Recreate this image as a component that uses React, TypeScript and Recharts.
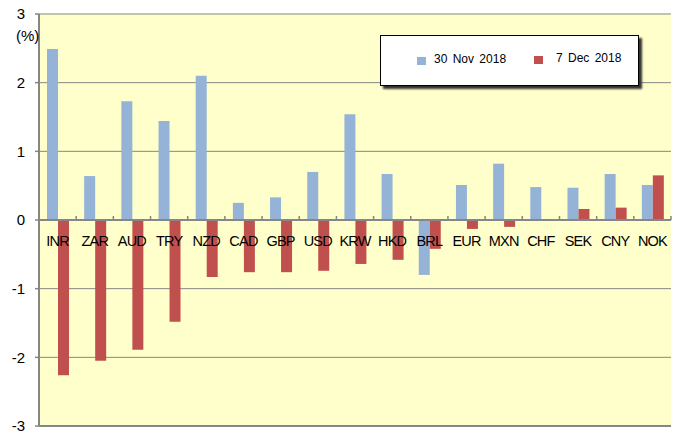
import { Bar, CartesianGrid, ComposedChart, LabelList, Line, ReferenceLine, XAxis, YAxis } from "recharts";

const currencies = ["INR", "ZAR", "AUD", "TRY", "NZD", "CAD", "GBP", "USD", "KRW", "HKD", "BRL", "EUR", "MXN", "CHF", "SEK", "CNY", "NOK"];
const nov30 = [2.49, 0.64, 1.73, 1.44, 2.1, 0.25, 0.33, 0.7, 1.54, 0.67, -0.8, 0.51, 0.82, 0.48, 0.47, 0.67, 0.51];
const dec7 = [-2.26, -2.05, -1.89, -1.48, -0.83, -0.76, -0.76, -0.74, -0.64, -0.58, -0.42, -0.13, -0.1, 0, 0.16, 0.18, 0.65];
const yTicks = [-3, -2, -1, 0, 1, 2, 3];

const chartData = currencies.map((name, i) => ({ name, nov30: nov30[i], dec7: dec7[i], base: 0 }));

const BLUE = "#95B3D7";
const RED = "#C0504D";
const AXIS = "#868686";
const W = 676;
const H = 439;
const margin = { top: 14, right: 5, bottom: 13, left: 0 };
const yAxisWidth = 39;
const bandWidth = (W - margin.left - margin.right - yAxisWidth) / currencies.length;
const font = "'Liberation Sans', Arial, sans-serif";

// small up-pointing tick marks on the zero axis, at each category boundary
const BoundaryTick = (props: any) => {
  const { cx, cy, index } = props;
  if (cx == null || cy == null) return <g key={index} />;
  const bx = cx + bandWidth / 2;
  return <line key={index} x1={bx} x2={bx} y1={cy} y2={cy - 4} stroke={AXIS} strokeWidth={1.5} />;
};

const CategoryLabel = (props: any) => {
  const vb = props.viewBox || props;
  const x = (vb.x ?? props.x) + (vb.width || 0) / 2;
  const y = vb.y ?? props.y;
  return (
    <text x={x} y={y + 26} textAnchor="middle" fill="#000" fontSize={14.5} letterSpacing={-0.8} fontFamily={font}>
      {props.value}
    </text>
  );
};

export default function App() {
  return (
    <div style={{ position: "absolute", left: 0, top: 0, width: W, height: H, background: "#fff" }}>
      <ComposedChart width={W} height={H} data={chartData} margin={margin} barGap={0} barSize={11}>
        <CartesianGrid vertical={false} stroke={AXIS} fill="#FFFFCC" />
        <XAxis dataKey="name" hide />
        <YAxis
          domain={[-3, 3]}
          ticks={yTicks}
          width={yAxisWidth}
          axisLine={{ stroke: AXIS, strokeWidth: 2 }}
          tickLine={{ stroke: AXIS, strokeWidth: 1.5 }}
          tickSize={4}
          tickMargin={10}
          interval={0}
          tick={{ fill: "#000", fontSize: 15, fontFamily: font }}
        />
        <ReferenceLine y={-3} stroke={AXIS} strokeWidth={2} />
        <Bar dataKey="nov30" fill={BLUE} isAnimationActive={false} />
        <Bar dataKey="dec7" fill={RED} isAnimationActive={false} />
        <ReferenceLine y={0} stroke={AXIS} strokeWidth={2} />
        <Line dataKey="base" stroke="none" dot={BoundaryTick} activeDot={false} isAnimationActive={false}>
          <LabelList dataKey="name" content={CategoryLabel} />
        </Line>
      </ComposedChart>

      <div style={{ position: "absolute", left: 16, top: 27, fontFamily: font, fontSize: 15, color: "#000" }}>(%)</div>

      <div
        style={{
          position: "absolute",
          left: 380,
          top: 35,
          width: 257,
          height: 49,
          background: "#fff",
          border: "1px solid #000",
          boxShadow: "3px 3px 2px #333",
          fontFamily: font,
          fontSize: 12,
          color: "#000",
        }}
      >
        <div style={{ position: "absolute", left: 36, top: 21, width: 9, height: 8, background: BLUE }} />
        <div style={{ position: "absolute", left: 53, top: 16, wordSpacing: 2 }}>30 Nov 2018</div>
        <div style={{ position: "absolute", left: 153, top: 20, width: 9, height: 8, background: RED }} />
        <div style={{ position: "absolute", left: 175, top: 15, wordSpacing: 2 }}>7 Dec 2018</div>
      </div>
    </div>
  );
}
